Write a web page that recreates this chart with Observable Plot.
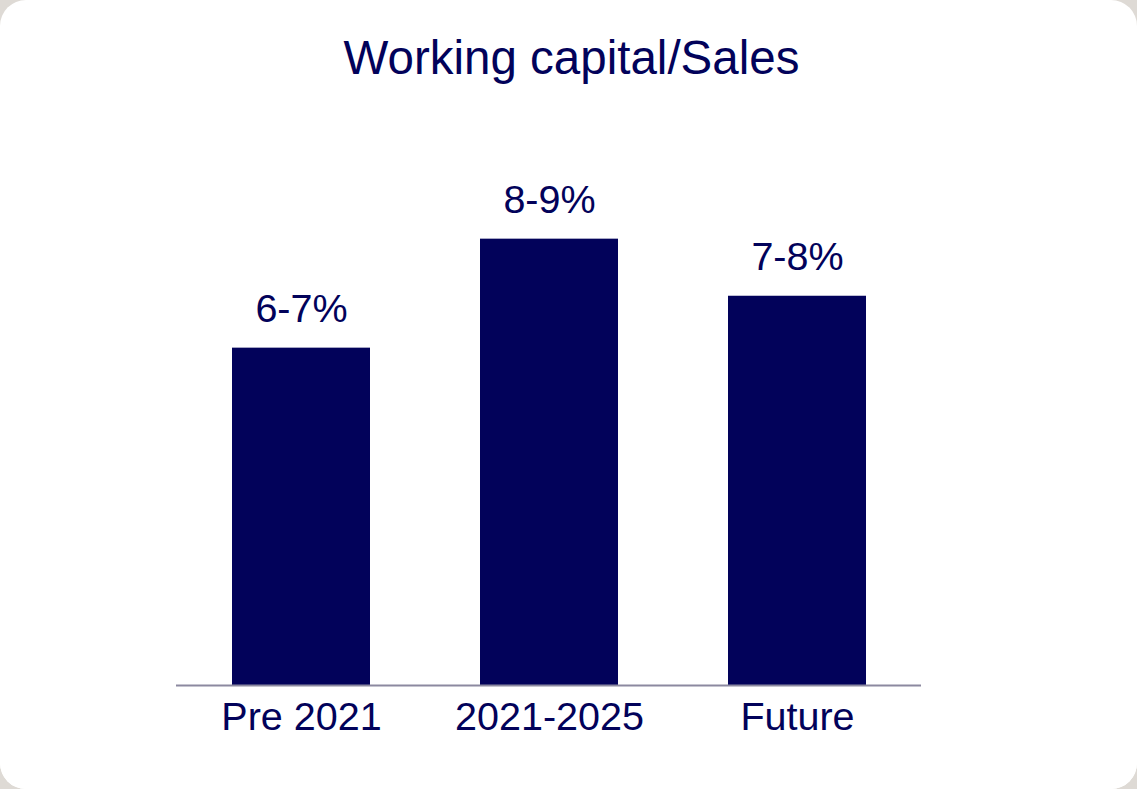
<!DOCTYPE html>
<html>
<head>
<meta charset="utf-8">
<script src="https://cdn.jsdelivr.net/npm/d3@7"></script>
<script src="https://cdn.jsdelivr.net/npm/@observablehq/plot@0.6"></script>
<style>
  html, body { margin: 0; padding: 0; background: #dedad5; }
  #card {
    position: absolute; left: 0; top: 0; width: 1137px; height: 789px;
    background: #ffffff; border-radius: 26px; overflow: hidden;
    font-family: "Liberation Sans", Arial, sans-serif;
  }
  #title {
    height: 100px; width: 1137px; box-sizing: border-box;
    padding-top: 32px; text-align: center;
    font-size: 47.5px; line-height: 52px; color: #02025a;
    padding-left: 6px;
  }
  svg { display: block; }
</style>
</head>
<body>
<div id="card">
  <div id="title">Working capital/Sales</div>
  <div id="chart"></div>
</div>
<script>
const categories = ["Pre 2021", "2021-2025", "Future"];
const values = [6.5, 8.6, 7.5];
const labels = ["6-7%", "8-9%", "7-8%"];

const data = categories.map((c, i) => ({category: c, value: values[i], label: labels[i]}));
const navy = "#02025a";

const chart = Plot.plot({
  width: 1137,
  height: 689,
  marginLeft: 176,
  marginRight: 216,
  marginTop: 66,
  marginBottom: 104,
  style: {fontFamily: "'Liberation Sans', Arial, sans-serif", color: navy, background: "white"},
  x: {domain: categories, paddingInner: 0.445, paddingOuter: 0.2225, label: null},
  y: {domain: [0, 10], axis: null},
  marks: [
    Plot.barY(data, {x: "category", y: "value", fill: navy}),
    Plot.ruleY([0], {stroke: "#8c89a0", strokeWidth: 2}),
    Plot.text(data, {x: "category", y: "value", text: "label", dy: -26, lineAnchor: "bottom", fontSize: 39.5, fill: navy}),
    Plot.axisX({tickSize: 0, tickPadding: 16, fontSize: 39.5, fill: navy, label: null})
  ]
});
document.getElementById("chart").appendChild(chart);
</script>
</body>
</html>
